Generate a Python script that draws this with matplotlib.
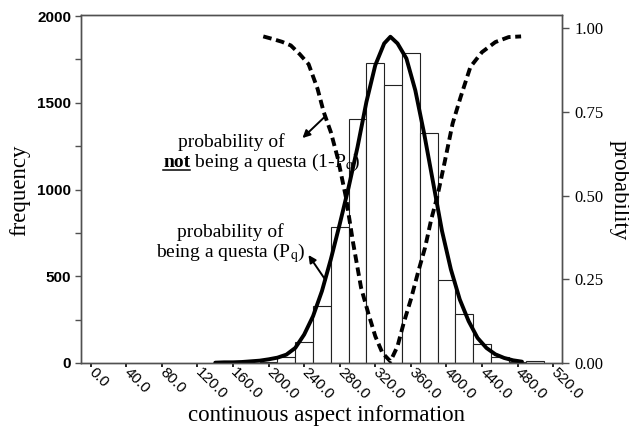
import matplotlib
matplotlib.use("Agg")
import matplotlib.pyplot as plt
from matplotlib.lines import Line2D
from matplotlib.transforms import ScaledTranslation
import numpy as np

# ---------------- data ----------------
bin_left = [190, 210, 230, 250, 270, 290, 310, 330, 350, 370, 390, 410, 430, 450, 470, 490]
bin_freq = [6, 36, 121, 328, 784, 1406, 1729, 1602, 1787, 1326, 476, 280, 110, 33, 5, 10]
bin_width = 20

pq_x = [140, 150, 160, 170, 180, 190, 200, 210, 220, 230, 240, 250, 260, 270, 280, 290,
        300, 310, 320, 330, 337, 345, 355, 365, 375, 385, 395, 405, 415, 425, 435, 445,
        455, 465, 475, 485]
pq_y = [0.001, 0.002, 0.002, 0.003, 0.005, 0.007, 0.011, 0.016, 0.025, 0.045, 0.085, 0.14,
        0.215, 0.31, 0.415, 0.525, 0.645, 0.78, 0.89, 0.955, 0.975, 0.955, 0.91, 0.815,
        0.685, 0.54, 0.395, 0.28, 0.19, 0.125, 0.075, 0.045, 0.026, 0.015, 0.008, 0.004]

npq_x = [194, 205, 215, 225, 235, 245, 255, 262, 270, 278, 287, 295, 304, 312, 320, 328,
         337, 345, 352, 360, 368, 376, 383, 390, 398, 407, 416, 427, 440, 455, 470, 484]
npq_y = [0.976, 0.968, 0.96, 0.949, 0.923, 0.893, 0.82, 0.75, 0.69, 0.61, 0.495, 0.36,
         0.225, 0.15, 0.08, 0.03, 0.005, 0.05, 0.12, 0.19, 0.27, 0.345, 0.43, 0.5, 0.6,
         0.716, 0.795, 0.885, 0.929, 0.959, 0.974, 0.976]

x_ticks = [0, 40, 80, 120, 160, 200, 240, 280, 320, 360, 400, 440, 480, 520]
freq_ticks = [0, 500, 1000, 1500, 2000]
prob_ticks = [0.0, 0.25, 0.5, 0.75, 1.0]

# ---------------- figure ----------------
plt.rcParams['mathtext.fontset'] = 'stix'
SERIF = 'Liberation Serif'
SANS = 'Liberation Sans'
spine_c = '#505050'

fig = plt.figure(figsize=(6.29, 4.33), dpi=100)
ax = fig.add_axes([81/629, 1-363/433, (562-81)/629, (363-15)/433])
ax.bar(bin_left, bin_freq, width=bin_width, align='edge', facecolor='white',
       edgecolor='#222222', linewidth=0.8, zorder=2)
ax.set_xlim(-11, 530)
ax.set_ylim(0, 2006)
ax.set_xticks(x_ticks)
ax.set_xticklabels([f"{v:.1f}" for v in x_ticks], rotation=-45, ha='left', va='center',
                   rotation_mode='anchor', fontfamily=SANS, fontsize=11)
off = ScaledTranslation(4/100, -5/100, fig.dpi_scale_trans)
for lab in ax.get_xticklabels():
    lab.set_transform(lab.get_transform() + off)
ax.set_yticks(freq_ticks)
ax.set_yticks([250, 750, 1250, 1750], minor=True)
ax.set_yticklabels([str(v) for v in freq_ticks], fontfamily=SANS, fontweight='bold', fontsize=11)
ax.tick_params(axis='x', direction='out', length=3, width=1.2, pad=2, color='black')
ax.tick_params(axis='y', which='both', direction='out', length=4, width=1, pad=3, color=spine_c)
for s in ax.spines.values():
    s.set_color(spine_c)
    s.set_linewidth(1)

ax2 = ax.twinx()
ax2.set_ylim(0, 1.04)
ax2.plot(pq_x, pq_y, color='black', lw=2.8, solid_capstyle='round', solid_joinstyle='round')
ax2.plot(npq_x, npq_y, color='black', lw=2.8, linestyle=(0, (2.2, 1.2)))
ax2.set_yticks(prob_ticks)
ax2.set_yticklabels([f"{v:.2f}" for v in prob_ticks], fontfamily=SERIF, fontsize=12)
ax2.tick_params(axis='y', direction='out', length=5, width=1, pad=4, color=spine_c)
for s in ax2.spines.values():
    s.set_color(spine_c)
    s.set_linewidth(1)

# axis labels
fig.text(20/629, 1-190/433, "frequency", rotation=90, ha='center', va='center',
         fontfamily=SERIF, fontsize=16.5)
fig.text(619/629, 1-190/433, "probability", rotation=270, ha='center', va='center',
         fontfamily=SERIF, fontsize=16.5)
fig.text(326/629, 1-416/433, "continuous aspect information", ha='center', va='center',
         fontfamily=SERIF, fontsize=16.5)

# annotations
def px2data(px, py):
    return ((px - 90.7) / 0.8875, (363 - py) / 334.7)

fs = 14
ax2.text(*px2data(231, 142), "probability of", ha='center', va='center', fontfamily=SERIF, fontsize=fs)
not_pos = px2data(163, 167)
t_not = ax2.text(*not_pos, "not", ha='left', va='baseline', fontfamily=SERIF,
                 fontsize=fs, fontweight='bold')
ax2.text(*px2data(230, 232), "probability of", ha='center', va='center', fontfamily=SERIF, fontsize=fs)
ax2.text(*px2data(230, 253), r"being a questa (P$_{\mathrm{q}}$)", ha='center', va='center',
         fontfamily=SERIF, fontsize=fs)

arrowprops = dict(arrowstyle='-|>', color='black', lw=1.4, mutation_scale=11, shrinkA=0, shrinkB=0)
ax2.annotate("", xy=px2data(302, 138), xytext=px2data(325, 116), arrowprops=arrowprops)
ax2.annotate("", xy=px2data(308, 255), xytext=px2data(325, 280), arrowprops=arrowprops)

# rest of the line after bold "not", plus underline
fig.canvas.draw()
r = fig.canvas.get_renderer()
bb = t_not.get_window_extent(renderer=r)
base_y = ax2.transData.transform(not_pos)[1]
W, H = fig.bbox.width, fig.bbox.height
fig.text(bb.x1 / W, base_y / H, r" being a questa (1-P$_{\mathrm{q}}$)", ha='left', va='baseline',
         fontfamily=SERIF, fontsize=fs)
y_ul = base_y - 2.5
fig.add_artist(Line2D([bb.x0, bb.x1], [y_ul, y_ul], transform=None, color='black', lw=1.1))

fig.savefig("out.png", dpi=100)
